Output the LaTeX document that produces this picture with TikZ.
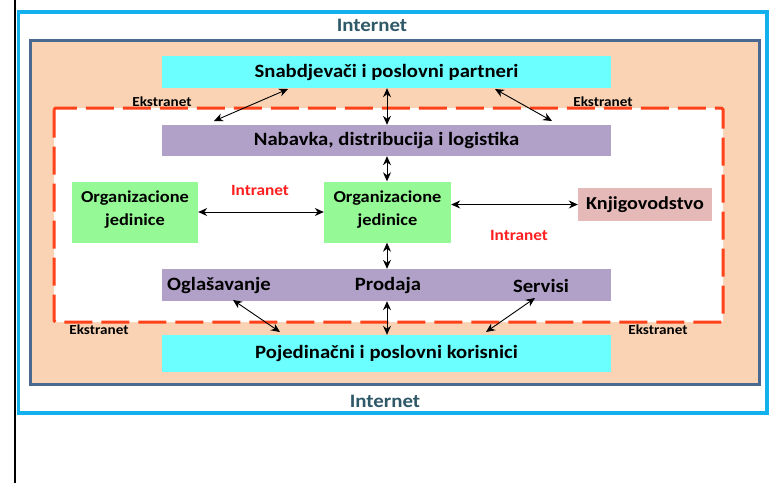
\documentclass[tikz,border=0pt]{standalone}
\usepackage{fontspec}
\setmainfont{Carlito}[FakeStretch=1.1]
\usetikzlibrary{arrows.meta}
\definecolor{cyanline}{HTML}{12B0EC}
\definecolor{internettext}{HTML}{2F5868}
\definecolor{innerline}{HTML}{4A6990}
\definecolor{peach}{HTML}{FAD3B4}
\definecolor{dashred}{HTML}{FF4219}
\definecolor{cyanbox}{HTML}{6BFFFF}
\definecolor{purplebox}{HTML}{B1A1C8}
\definecolor{greenbox}{HTML}{95F995}
\definecolor{pinkbox}{HTML}{E4B9B8}
\definecolor{intrared}{HTML}{FF1F1F}
\tikzset{
  box/.style={draw=none, inner sep=0pt, font=\bfseries\fontsize{18.8}{22}\selectfont, align=center},
  greentxt/.style={font=\bfseries\fontsize{16.7}{23}\selectfont},
  lbl/.style={inner sep=0pt, font=\bfseries\fontsize{13.8}{16}\selectfont},
  inet/.style={inner sep=0pt, text=internettext, font=\bfseries\fontsize{19}{22}\selectfont},
  intra/.style={inner sep=0pt, text=intrared, font=\bfseries\fontsize{15.7}{18}\selectfont},
  link/.style={{Stealth[length=9pt,width=8pt]}-{Stealth[length=9pt,width=8pt]}, line width=0.9pt, black}
}
\begin{document}
\begin{tikzpicture}[x=1pt,y=-1pt]
\useasboundingbox (0,0) rectangle (769,483);
\fill[white] (0,0) rectangle (769,483);
% left black line
\draw[black, line width=2pt] (15,0) -- (15,483);
% outer internet frame
\draw[cyanline, line width=3.5pt, fill=white] (18.5,12) rectangle (767,413);
% extranet frame
\draw[innerline, line width=3pt, fill=peach] (30.5,40.5) rectangle (759.5,384.5);
% intranet dashed frame
\draw[dashred, line width=3pt, fill=white, dash pattern=on 28pt off 9pt, rounded corners=1.5pt] (54,108) rectangle (723,322);

\node[inet] (inettop) at (372,25) {Internet};
\node[inet] (inetbot) at (385,401) {Internet};

% boxes
\node[box, fill=cyanbox, minimum width=449pt, minimum height=32pt] (snab) at (386.5,72) {Snabdjevači i poslovni partneri};
\node[box, fill=purplebox, minimum width=449pt, minimum height=31pt] (nab) at (386.5,140.5) {Nabavka, distribucija i logistika};
\node[box, greentxt, fill=greenbox, minimum width=126pt, minimum height=61pt] (orgL) at (135,212) {Organizacione\\jedinice\rule[-8.5pt]{0pt}{0pt}};
\node[box, greentxt, fill=greenbox, minimum width=127pt, minimum height=61pt] (orgC) at (387.5,212) {Organizacione\\jedinice\rule[-8.5pt]{0pt}{0pt}};
\node[box, fill=pinkbox, minimum width=134pt, minimum height=33pt, font=\bfseries\fontsize{18.3}{22}\selectfont] (knj) at (645,204.5) {Knjigovodstvo};
\node[box, fill=purplebox, minimum width=449pt, minimum height=32pt] (prod) at (386.5,285) {};
\node[box] (ogl) at (219,285.5) {Oglašavanje};
\node[box] (proda) at (388,285.5) {Prodaja};
\node[box] (serv) at (541,285.5) {Servisi};
\node[box, fill=cyanbox, minimum width=449pt, minimum height=37pt] (poj) at (386.5,353.5) {Pojedinačni i poslovni korisnici};

% labels
\node[lbl] (ekTL) at (162,101.5) {Ekstranet};
\node[lbl] (ekTR) at (603,101.5) {Ekstranet};
\node[lbl] (ekBL) at (99,330) {Ekstranet};
\node[lbl] (ekBR) at (658,330) {Ekstranet};
\node[intra] (intraL) at (260,190) {Intranet};
\node[intra] (intraR) at (519,235) {Intranet};

% anchor coordinates
\coordinate (sA) at (288,89);
\coordinate (nA) at (214,121);
\coordinate (sB) at (495,89);
\coordinate (nB) at (552,121);
\coordinate (oA) at (233,300);
\coordinate (pA) at (280,332);
\coordinate (oB) at (535,298);
\coordinate (pB) at (486,332);

% links
\draw[link] (nA) -- (sA);
\draw[link] (snab.south -| 387,0) -- (nab.north -| 387,0);
\draw[link] (sB) -- (nB);
\draw[link] (nab.south -| 387,0) -- (orgC.north -| 387,0);
\draw[link] (orgC.south -| 387,0) -- (prod.north -| 387,0);
\draw[link] (orgL.east) -- (orgC.west);
\draw[link] (orgC.east |- knj.west) -- (knj.west);
\draw[link] (oA) -- (pA);
\draw[link] (prod.south -| 387,0) -- (poj.north -| 387,0);
\draw[link] (oB) -- (pB);
\end{tikzpicture}
\end{document}
